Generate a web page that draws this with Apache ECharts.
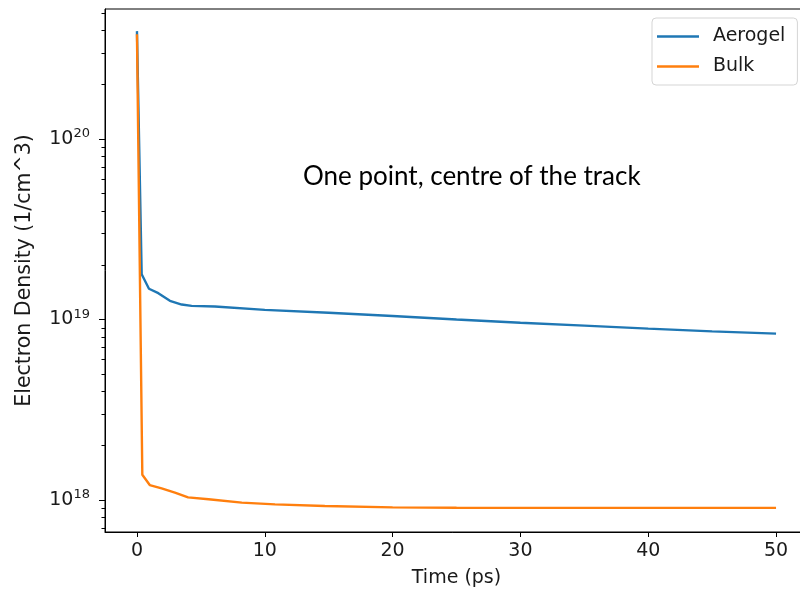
<!DOCTYPE html>
<html>
<head>
<meta charset="utf-8">
<script src="https://cdn.jsdelivr.net/npm/echarts@6/dist/echarts.min.js"></script>
<style>html,body{margin:0;padding:0;background:#fff;}#c{width:800px;height:594px;}</style>
</head>
<body>
<div id="c"></div>
<script>
// ---- data ----
const aerogelTime = [0, 0.37, 0.94, 1.67, 2.58, 3.5, 4.28, 6.1, 10, 15, 20, 25, 30, 35, 40, 45, 50];
const aerogelDensity = [3.96e20, 1.78e19, 1.48e19, 1.40e19, 1.27e19, 1.21e19, 1.19e19, 1.18e19, 1.13e19, 1.09e19, 1.045e19, 1.0e19, 9.6e18, 9.25e18, 8.9e18, 8.6e18, 8.35e18];
const bulkTime = [0, 0.42, 1.0, 1.93, 2.97, 4.0, 5.6, 8.2, 10.8, 14.7, 20, 25, 30, 40, 50];
const bulkDensity = [3.8e20, 1.38e18, 1.21e18, 1.16e18, 1.10e18, 1.035e18, 1.01e18, 9.67e17, 9.46e17, 9.27e17, 9.1e17, 9.06e17, 9.05e17, 9.05e17, 9.05e17];
const xTicks = [0, 10, 20, 30, 40, 50];
const yMajorTicks = [1e18, 1e19, 1e20];
const yMinorTicks = [7e17, 8e17, 9e17, 2e18, 3e18, 4e18, 5e18, 6e18, 7e18, 8e18, 9e18, 2e19, 3e19, 4e19, 5e19, 6e19, 7e19, 8e19, 9e19, 2e20, 3e20, 4e20, 5e20];
const seriesNames = ['Aerogel', 'Bulk'];
const annotation = 'One point, centre of the track';
const xName = 'Time (ps)';
const yName = 'Electron Density (1/cm^3)';

const pairs = (xs, ys) => xs.map((x, i) => [x, ys[i]]);
const font = 'DejaVu Sans';
const fs = 19;
const yMin = 6.65e17, yMax = 5.25e20;

const chart = echarts.init(document.getElementById('c'));
chart.setOption({
  animation: false,
  backgroundColor: '#fff',
  grid: { left: 105, top: 9, width: 703, height: 523, show: true, borderColor: '#000', borderWidth: 1, containLabel: false, outerBoundsMode: 'none' },
  legend: {
    left: 652, top: 18, orient: 'vertical', data: seriesNames,
    icon: 'rect', itemWidth: 42, itemHeight: 2.5, itemGap: 11,
    padding: [9, 12, 9, 5], borderColor: '#d5d5d5', borderWidth: 1, borderRadius: 4,
    textStyle: { fontFamily: font, fontSize: fs, color: '#1a1a1a', padding: [0, 0, 0, 9] }
  },
  xAxis: {
    type: 'value', min: -2.5, max: 52.5,
    name: xName, nameLocation: 'middle', nameGap: 37,
    nameTextStyle: { fontFamily: font, fontSize: fs, color: '#1a1a1a' },
    axisLine: { show: true, onZero: false, lineStyle: { color: '#000', width: 1 } },
    axisTick: { show: true, customValues: xTicks, length: 5, lineStyle: { color: '#000' } },
    axisLabel: { customValues: xTicks, margin: 10, fontFamily: font, fontSize: fs, color: '#1a1a1a' },
    splitLine: { show: false }
  },
  yAxis: [{
    type: 'log', logBase: 10, min: yMin, max: yMax,
    name: yName, nameLocation: 'middle', nameGap: 70,
    nameTextStyle: { fontFamily: font, fontSize: 20.5, color: '#1a1a1a' },
    axisLine: { show: true, onZero: false, lineStyle: { color: '#000', width: 1 } },
    axisTick: { show: true, customValues: yMajorTicks, length: 6, lineStyle: { color: '#000' } },
    axisLabel: {
      customValues: yMajorTicks, margin: 15, color: '#1a1a1a',
      formatter: v => '{b|10}{s|' + Math.round(Math.log10(v)) + '}',
      rich: {
        b: { fontFamily: font, fontSize: fs, color: '#1a1a1a' },
        s: { fontFamily: font, fontSize: 13, color: '#1a1a1a', padding: [0, 0, 10, 0] }
      }
    },
    splitLine: { show: false }
  }, {
    type: 'log', logBase: 10, min: yMin, max: yMax, position: 'left',
    axisLine: { show: false, onZero: false },
    axisTick: { show: true, customValues: yMinorTicks, length: 3.5, lineStyle: { color: '#000' } },
    axisLabel: { show: false },
    splitLine: { show: false }
  }],
  graphic: [{
    type: 'text', left: 303, top: 164,
    style: { text: annotation, fontFamily: 'Lato', fontSize: 26, fill: '#000' }
  }],
  series: [{
    name: seriesNames[0], type: 'line', yAxisIndex: 0, showSymbol: false, symbol: 'none',
    data: pairs(aerogelTime, aerogelDensity),
    lineStyle: { color: '#1f77b4', width: 2.4 }, itemStyle: { color: '#1f77b4' }
  }, {
    name: seriesNames[1], type: 'line', yAxisIndex: 0, showSymbol: false, symbol: 'none',
    data: pairs(bulkTime, bulkDensity),
    lineStyle: { color: '#ff7f0e', width: 2.4 }, itemStyle: { color: '#ff7f0e' }
  }]
});
</script>
</body>
</html>
